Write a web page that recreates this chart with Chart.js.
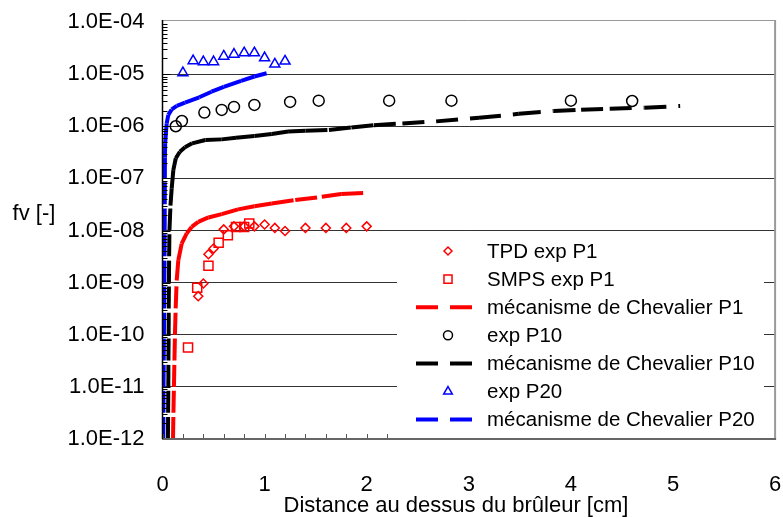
<!DOCTYPE html>
<html>
<head>
<meta charset="utf-8">
<script src="https://cdn.jsdelivr.net/npm/chart.js@4.4.1/dist/chart.umd.min.js"></script>
<style>
  body { margin: 0; background: #fff; }
  #wrap { width: 783px; height: 518px; }
</style>
</head>
<body>
<div id="wrap"><canvas id="graficoFv"></canvas></div>
<script>
// axes
const ticksX = [0, 1, 2, 3, 4, 5, 6];
const decadesY = [1e-12, 1e-11, 1e-10, 1e-9, 1e-8, 1e-7, 1e-6, 1e-5, 1e-4];

// P1 - mesures
const tpdP1X = [0.35, 0.4, 0.45, 0.5, 0.6, 0.7, 0.8, 0.9, 1.0, 1.1, 1.2, 1.4, 1.6, 1.8, 2.0];
const tpdP1Y = [5.5e-10, 9.6e-10, 3.5e-9, 4.5e-9, 1.05e-8, 1.2e-8, 1.2e-8, 1.2e-8, 1.3e-8, 1.12e-8, 9.8e-9, 1.12e-8, 1.12e-8, 1.12e-8, 1.2e-8];
const smpsP1X = [0.25, 0.34, 0.45, 0.55, 0.64, 0.72, 0.8, 0.85];
const smpsP1Y = [5.7e-11, 8.0e-10, 2.1e-9, 5.8e-9, 8.1e-9, 1.17e-8, 1.17e-8, 1.36e-8];

// P1 - mécanisme
const chevP1X = [0.103, 0.107, 0.112, 0.117, 0.122, 0.129, 0.139, 0.155, 0.188, 0.237, 0.286, 0.35, 0.45, 0.58, 0.74, 0.9, 1.07, 1.3, 1.56, 1.75, 2.0];
const chevP1Y = [1e-12, 3.2e-12, 1e-11, 3.2e-11, 1e-10, 3.2e-10, 1.1e-9, 2.7e-9, 5.6e-9, 8.8e-9, 1.17e-8, 1.46e-8, 1.78e-8, 2.06e-8, 2.54e-8, 2.93e-8, 3.3e-8, 3.83e-8, 4.43e-8, 5.0e-8, 5.28e-8];

// P10
const expP10X = [0.13, 0.19, 0.41, 0.58, 0.7, 0.9, 1.25, 1.53, 2.22, 2.83, 4.0, 4.6];
const expP10Y = [1.0e-6, 1.26e-6, 1.83e-6, 2.06e-6, 2.35e-6, 2.57e-6, 2.93e-6, 3.1e-6, 3.1e-6, 3.1e-6, 3.1e-6, 3.05e-6];
const chevP10X = [0.053, 0.055, 0.057, 0.058, 0.06, 0.061, 0.063, 0.065, 0.068, 0.078, 0.09, 0.106, 0.13, 0.17, 0.22, 0.29, 0.42, 0.58, 0.72, 0.9, 1.07, 1.23, 1.4, 1.63, 1.85, 2.07, 2.35, 2.68, 3.1, 3.49, 3.83, 4.1, 4.38, 4.72, 5.07];
const chevP10Y = [1e-12, 3.2e-12, 1e-11, 3.2e-11, 1e-10, 3.2e-10, 1e-9, 3.2e-9, 1e-8, 3e-8, 6.4e-8, 1.44e-7, 2.43e-7, 3.25e-7, 3.95e-7, 4.7e-7, 5.45e-7, 5.6e-7, 6.0e-7, 6.5e-7, 7.1e-7, 7.9e-7, 8.2e-7, 8.5e-7, 9.5e-7, 1.05e-6, 1.13e-6, 1.24e-6, 1.45e-6, 1.73e-6, 1.96e-6, 2.08e-6, 2.17e-6, 2.27e-6, 2.45e-6];

// P20
const expP20X = [0.2, 0.3, 0.4, 0.5, 0.6, 0.7, 0.8, 0.9, 1.0, 1.1, 1.2];
const expP20Y = [1.06e-5, 1.8e-5, 1.72e-5, 1.72e-5, 2.2e-5, 2.4e-5, 2.55e-5, 2.55e-5, 2.05e-5, 1.55e-5, 1.77e-5];
const chevP20X = [0.008, 0.009, 0.01, 0.012, 0.014, 0.016, 0.018, 0.02, 0.021, 0.022, 0.023, 0.024, 0.026, 0.041, 0.057, 0.09, 0.14, 0.22, 0.36, 0.48, 0.6, 0.77, 0.9, 1.02];
const chevP20Y = [1e-12, 3.2e-12, 1e-11, 3.2e-11, 1e-10, 3.2e-10, 1e-9, 3.2e-9, 1e-8, 3.2e-8, 1e-7, 2.5e-7, 4.7e-7, 1.14e-6, 1.65e-6, 2.1e-6, 2.47e-6, 2.84e-6, 3.6e-6, 4.6e-6, 5.7e-6, 7.4e-6, 9.0e-6, 1.04e-5];

const pts = (xs, ys) => xs.map((x, i) => ({ x: x, y: ys[i] }));

// format 1.0E-05
function fmtExp(v) {
  const e = Math.round(Math.log10(v));
  return "1.0E" + (e < 0 ? "-" : "+") + String(Math.abs(e)).padStart(2, "0");
}

function marqueurs(label, xs, ys, color, style, r) {
  return {
    label: label, data: pts(xs, ys), showLine: false,
    pointStyle: style, pointRadius: r, pointHoverRadius: r,
    pointBorderColor: color, pointBackgroundColor: "rgba(0,0,0,0)",
    pointBorderWidth: 1.5, borderColor: color,
  };
}

function courbe(label, xs, ys, color) {
  return {
    label: label, data: pts(xs, ys), showLine: true, pointRadius: 0,
    borderColor: color, borderWidth: 4, borderDash: [22, 12],
    // le tiret repart à chaque segment (comme Excel)
    segment: { borderDashOffset: (c) => (c.p0DataIndex % 2) * 0.01 },
    _legendLine: true,
  };
}

const datasets = [
  marqueurs("TPD exp P1", tpdP1X, tpdP1Y, "#ff0000", "rectRot", 4.5),
  marqueurs("SMPS exp P1", smpsP1X, smpsP1Y, "#ff0000", "rect", 6.4),
  courbe("mécanisme de Chevalier P1", chevP1X, chevP1Y, "#ff0000"),
  marqueurs("exp P10", expP10X, expP10Y, "#000000", "circle", 5.5),
  courbe("mécanisme de Chevalier P10", chevP10X, chevP10Y, "#000000"),
  marqueurs("exp P20", expP20X, expP20Y, "#0000ff", "triangle", 5.8),
  courbe("mécanisme de Chevalier P20", chevP20X, chevP20Y, "#0000ff"),
];

function drawMarker(ctx, style, x, y, r) {
  ctx.beginPath();
  if (style === "rectRot") {
    ctx.moveTo(x - r, y); ctx.lineTo(x, y - r); ctx.lineTo(x + r, y); ctx.lineTo(x, y + r); ctx.closePath();
  } else if (style === "rect") {
    const s = r * Math.SQRT1_2;
    ctx.rect(x - s, y - s, 2 * s, 2 * s);
  } else if (style === "circle") {
    ctx.arc(x, y, r, 0, Math.PI * 2);
  } else if (style === "triangle") {
    ctx.moveTo(x, y - r);
    ctx.lineTo(x + 0.866 * r, y + r / 2);
    ctx.lineTo(x - 0.866 * r, y + r / 2);
    ctx.closePath();
  }
  ctx.stroke();
}

// cadre, petites graduations, légende dans le graphique, titres
const cadrePlugin = {
  id: "cadre",
  afterDatasetsDraw(chart) {
    const { ctx, chartArea: a, scales } = chart;
    const sx = scales.x, sy = scales.y;
    ctx.save();

    // graduations intérieures axe Y
    ctx.strokeStyle = "#000";
    ctx.lineWidth = 1;
    decadesY.slice(0, -1).forEach((d) => {
      for (let k = 1; k < 10; k++) {
        const py = Math.round(sy.getPixelForValue(d * k)) + 0.5;
        ctx.beginPath();
        ctx.moveTo(a.left, py);
        ctx.lineTo(a.left + (k === 1 ? 8 : 5), py);
        ctx.stroke();
      }
    });
    // graduations intérieures axe X (pas de 0.2)
    ctx.strokeStyle = "#555";
    for (let i = 0; i <= 30; i++) {
      const px = Math.round(sx.getPixelForValue(i / 5)) + 0.5;
      ctx.beginPath();
      ctx.moveTo(px, a.bottom);
      ctx.lineTo(px, a.bottom - 5);
      ctx.stroke();
    }

    // bordures
    ctx.strokeStyle = "#999";
    ctx.lineWidth = 1;
    ctx.beginPath();
    ctx.moveTo(a.left, a.top - 1.5);
    ctx.lineTo(a.right, a.top - 1.5);
    ctx.stroke();
    ctx.lineWidth = 2;
    ctx.beginPath();
    ctx.moveTo(a.right, a.top - 2);
    ctx.lineTo(a.right, a.bottom);
    ctx.stroke();
    ctx.strokeStyle = "#666";
    ctx.beginPath();
    ctx.moveTo(a.left, a.bottom);
    ctx.lineTo(a.right + 1, a.bottom);
    ctx.stroke();
    ctx.strokeStyle = "#000";
    ctx.lineWidth = 1.5;
    ctx.beginPath();
    ctx.moveTo(a.left, a.top - 2);
    ctx.lineTo(a.left, a.bottom);
    ctx.stroke();

    // légende
    ctx.fillStyle = "#fff";
    ctx.fillRect(397, 234, 367, a.bottom - 235);
    ctx.font = "20.5px 'Liberation Sans', Arial, sans-serif";
    ctx.textBaseline = "middle";
    ctx.textAlign = "left";
    chart.data.datasets.forEach((ds, i) => {
      const yy = 251 + i * 28.1;
      if (ds._legendLine) {
        ctx.strokeStyle = ds.borderColor;
        ctx.lineWidth = 4;
        ctx.setLineDash([22, 12]);
        ctx.beginPath();
        ctx.moveTo(416, yy);
        ctx.lineTo(474, yy);
        ctx.stroke();
        ctx.setLineDash([]);
      } else {
        ctx.strokeStyle = ds.pointBorderColor;
        ctx.lineWidth = 1.5;
        const rr = { rectRot: 4, rect: 5.7, circle: 4.5, triangle: 5 }[ds.pointStyle];
        drawMarker(ctx, ds.pointStyle, 448, yy, rr);
      }
      ctx.fillStyle = "#000";
      ctx.fillText(ds.label, 487, yy + 1);
    });

    // titres des axes
    ctx.font = "22px 'Liberation Sans', Arial, sans-serif";
    ctx.textAlign = "center";
    ctx.fillText("fv [-]", 34, 214);
    ctx.fillText("Distance au dessus du brûleur [cm]", 456, 506);
    ctx.restore();
  },
};

// pas de marge automatique : la zone du graphique est fixée à la main
function noPad(s) {
  s.paddingLeft = 0; s.paddingRight = 0; s.paddingTop = 0; s.paddingBottom = 0;
}

Chart.defaults.font.family = "'Liberation Sans', Arial, sans-serif";
Chart.defaults.color = "#000";

const ctx = document.getElementById("graficoFv").getContext("2d");
new Chart(ctx, {
  type: "scatter",
  data: { datasets: datasets },
  options: {
    responsive: true,
    maintainAspectRatio: false,
    animation: false,
    layout: { padding: { top: 22, right: 7.5, bottom: 0, left: 0 } },
    plugins: { legend: { display: false }, tooltip: { enabled: false } },
    scales: {
      x: {
        type: "linear", min: 0, max: 6,
        afterBuildTicks: (s) => { s.ticks = ticksX.map((v) => ({ value: v })); },
        afterFit: (s) => { s.height = 79; noPad(s); },
        grid: { display: false, drawTicks: false },
        border: { display: false },
        ticks: { font: { size: 22 }, padding: 33, maxRotation: 0 },
      },
      y: {
        type: "logarithmic", min: 1e-12, max: 1e-4,
        afterBuildTicks: (s) => { s.ticks = decadesY.map((v) => ({ value: v })); },
        afterFit: (s) => { s.width = 162.5; noPad(s); },
        grid: {
          drawTicks: false,
          color: (c) => (c.tick && (c.tick.value === 1e-12 || c.tick.value === 1e-4) ? "rgba(0,0,0,0)" : "#333"),
        },
        border: { display: false },
        ticks: { font: { size: 22 }, padding: 18, autoSkip: false, callback: (v) => fmtExp(v) },
      },
    },
  },
  plugins: [cadrePlugin],
});
</script>
</body>
</html>
